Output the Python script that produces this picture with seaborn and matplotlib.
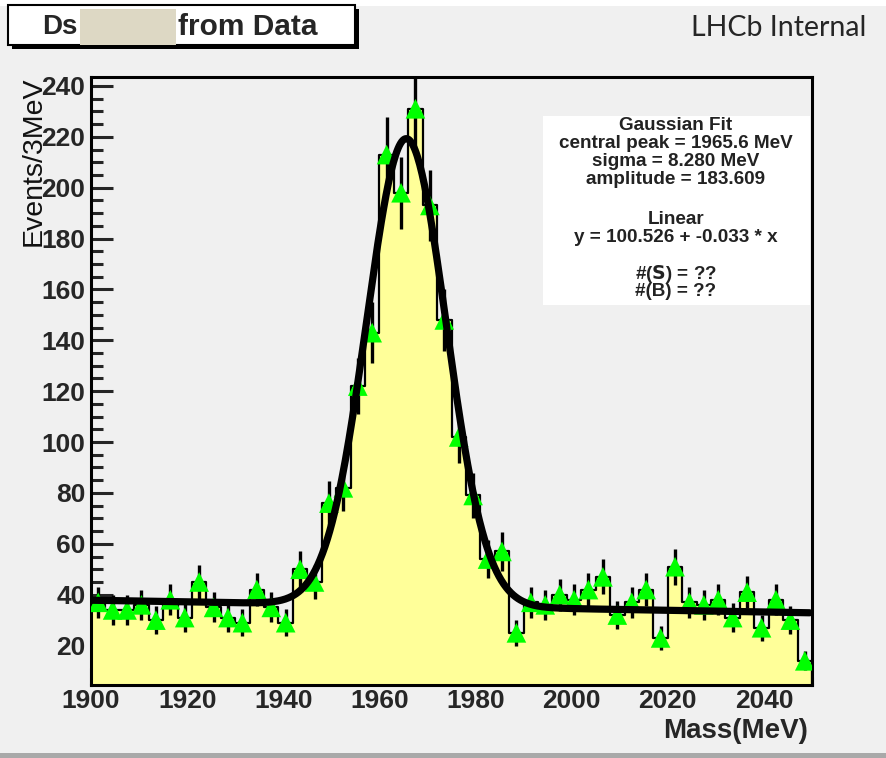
import numpy as np
import pandas as pd
import matplotlib
matplotlib.use("Agg")
import matplotlib.pyplot as plt
from matplotlib.patches import Rectangle
from matplotlib.ticker import MultipleLocator
import seaborn as sns

# Binned Ds candidate mass spectrum, 3 MeV bins from 1900 to 2050 MeV
bin_width = 3
mass_range = (1900, 2050)
bin_edges = np.arange(mass_range[0], mass_range[1] + 1, bin_width)
bin_centers = (bin_edges[:-1] + bin_edges[1:]) / 2
counts = np.array([
    37, 34, 34, 36, 30, 38, 31, 45, 35, 31,
    29, 42, 35, 29, 50, 45, 76, 82, 122, 143,
    213, 198, 231, 193, 148, 102, 79, 54, 57, 25,
    37, 36, 40, 38, 42, 47, 32, 37, 42, 23,
    51, 37, 36, 38, 31, 41, 27, 38, 30, 14,
])
errors = np.sqrt(counts)

# Gaussian + linear background fit parameters
fit_mean = 1965.6
fit_sigma = 8.280
fit_amp = 183.609
lin_c0 = 100.526
lin_c1 = -0.033

stats_lines = [
    "Gaussian Fit",
    f"central peak = {fit_mean:.1f} MeV",
    f"sigma = {fit_sigma:.3f} MeV",
    f"amplitude = {fit_amp:.3f}",
    "",
    "Linear",
    f"y = {lin_c0:.3f} + {lin_c1:.3f} * x",
    "",
    r"#($\mathbf{S}$) = ??",
    "#(B) = ??",
]

hist_df = pd.DataFrame({"mass": bin_centers, "n": counts})

W, H = 887, 758
sns.set_style("white")
plt.rcParams["font.family"] = ["Liberation Sans", "DejaVu Sans"]

bg = "#f0f0f0"
fig = plt.figure(figsize=(W / 100, H / 100), dpi=100, facecolor=bg)

# page strips above and below the canvas
fig.patches.append(Rectangle((0, 1 - 6 / H), 1, 6 / H, transform=fig.transFigure,
                             facecolor="white", edgecolor="none"))
fig.patches.append(Rectangle((0, 0), 1, 5 / H, transform=fig.transFigure,
                             facecolor="#a9a9a9", edgecolor="none"))

ax = fig.add_axes([91 / W, 1 - 685 / H, (812 - 91) / W, (685 - 77) / H])
ax.set_facecolor(bg)

# filled histogram
sns.histplot(data=hist_df, x="mass", weights="n", binwidth=bin_width,
             binrange=mass_range, element="step", fill=True, color="#ffff99",
             alpha=1.0, edgecolor="black", linewidth=1.6, ax=ax, zorder=1)
for coll in ax.collections:
    coll.set_facecolor("#ffff99")
    coll.set_alpha(1.0)

# data points with Poisson errors
ax.errorbar(bin_centers, counts, yerr=errors, fmt="none", ecolor="black",
            elinewidth=2.4, capsize=0, zorder=3)
sns.scatterplot(x=bin_centers, y=counts, marker="^", s=200, color="#00ff00",
                edgecolor="none", ax=ax, zorder=4)

# fit curve
xf = np.linspace(1900, 2049.5, 600)
yf = fit_amp * np.exp(-0.5 * ((xf - fit_mean) / fit_sigma) ** 2) + lin_c0 + lin_c1 * xf
sns.lineplot(x=xf, y=yf, color="black", linewidth=5.2, ax=ax, zorder=5)

ax.set_xlim(*mass_range)
ax.set_ylim(4.5, 243.5)
ax.set_xlabel("")
ax.set_ylabel("")
ax.xaxis.set_major_locator(MultipleLocator(20))
ax.xaxis.set_minor_locator(MultipleLocator(5))
ax.yaxis.set_major_locator(MultipleLocator(20))
ax.yaxis.set_minor_locator(MultipleLocator(5))
ax.tick_params(axis="x", which="major", direction="in", length=12, width=2.2,
               labelsize=19, pad=3, top=False, bottom=True)
ax.tick_params(axis="x", which="minor", direction="in", length=6, width=2.2,
               top=False, bottom=True)
ax.tick_params(axis="y", which="major", direction="in", length=16, width=2.2,
               labelsize=19, pad=4, right=False, left=True)
ax.tick_params(axis="y", which="minor", direction="in", length=8.5, width=2.2,
               right=False, left=True)
for lab in ax.get_xticklabels() + ax.get_yticklabels():
    lab.set_fontweight("bold")
for sp in ax.spines.values():
    sp.set_linewidth(2.2)
    sp.set_color("black")
    sp.set_visible(True)

# statistics box
ax.add_patch(Rectangle((543 / W, 1 - 305 / H), (810 - 543) / W, (305 - 116) / H,
                       transform=fig.transFigure, facecolor="white",
                       edgecolor="none", zorder=6))
line_y = [125, 143, 161, 180, 0, 219, 238, 0, 274, 292]
for txt, yy in zip(stats_lines, line_y):
    if txt:
        fig.text(676 / W, 1 - yy / H, txt, ha="center", va="center",
                 fontsize=13.6, fontweight="bold", color="#222222", zorder=7)

# axis titles
fig.text(34 / W, 1 - 77 / H, "Events/3MeV", rotation=90, ha="center", va="top",
         fontsize=20.5, color="#111111")
fig.text(808 / W, 1 - 731 / H, "Mass(MeV)", ha="right", va="center",
         fontsize=20, fontweight="bold")

# title box with drop shadow
fig.patches.append(Rectangle((12 / W, 1 - 49 / H), (355 - 8) / W, 40 / H,
                             transform=fig.transFigure, facecolor="black",
                             edgecolor="none"))
fig.patches.append(Rectangle((8 / W, 1 - 45 / H), (355 - 8) / W, 40 / H,
                             transform=fig.transFigure, facecolor="white",
                             edgecolor="black", linewidth=1.5))
fig.patches.append(Rectangle((80 / W, 1 - 45 / H), 96 / W, 36 / H,
                             transform=fig.transFigure, facecolor="#ddd8c4",
                             edgecolor="none"))
fig.text(42 / W, 1 - 27 / H, "Ds", ha="left", va="center", fontsize=20,
         fontweight="bold")
fig.text(178 / W, 1 - 27 / H, "from Data", ha="left", va="center", fontsize=21.5,
         fontweight="bold")

fig.text(866 / W, 1 - 28 / H, "LHCb Internal", ha="right", va="center",
         fontsize=20.5, family=["Lato", "DejaVu Sans"])

fig.savefig("out.png", dpi=100, facecolor=bg)
